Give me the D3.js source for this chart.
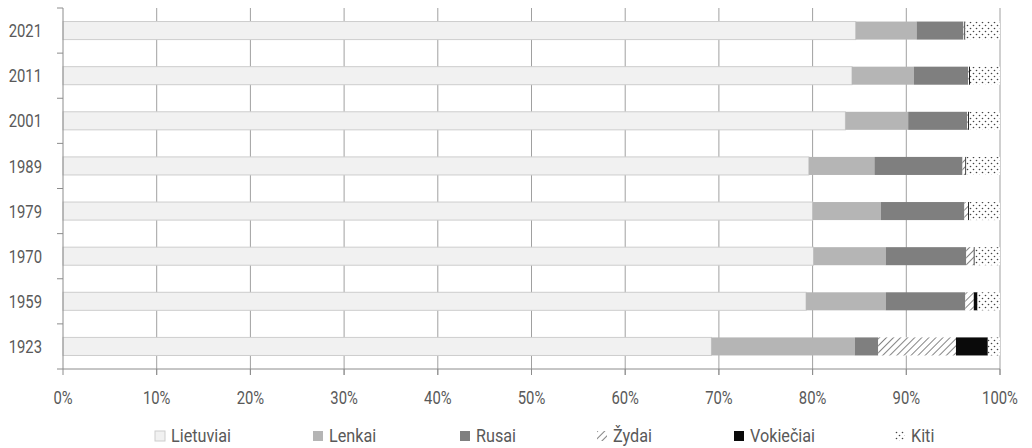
<!DOCTYPE html>
<html><head><meta charset="utf-8">
<script src="https://cdn.jsdelivr.net/npm/d3@7"></script>
<style>
body{margin:0;background:#fff;}
text{font-family:Roboto,"DejaVu Sans Condensed",sans-serif;font-weight:400;fill:#595959;}
</style></head>
<body><svg id="c" width="1032" height="448"></svg>
<script>
const years = ["2021","2011","2001","1989","1979","1970","1959","1923"];
const groups = ["Lietuviai","Lenkai","Rusai","Žydai","Vokiečiai","Kiti"];
const lietuviai = [84.6,84.2,83.5,79.6,80.0,80.1,79.3,69.2];
const lenkai    = [6.5,6.6,6.7,7.0,7.3,7.7,8.5,15.3];
const rusai     = [5.0,5.8,6.3,9.4,8.9,8.6,8.5,2.5];
const zydai     = [0.1,0.1,0.1,0.3,0.4,0.8,0.9,8.3];
const vokieciai = [0.1,0.1,0.1,0.1,0.1,0.1,0.4,3.4];
const kiti      = [3.7,3.2,3.3,3.6,3.3,2.7,2.4,1.3];
const xTicks = [0,10,20,30,40,50,60,70,80,90,100];

const series = [lietuviai,lenkai,rusai,zydai,vokieciai,kiti];
const rows = years.map((y,i)=>{const o={year:y};groups.forEach((g,j)=>o[g]=series[j][i]);return o;});

const svg = d3.select("#c");
const defs = svg.append("defs");
const hatch = defs.append("pattern").attr("id","hatch").attr("patternUnits","userSpaceOnUse")
  .attr("width",5).attr("height",5).attr("patternTransform","rotate(45)");
hatch.append("rect").attr("width",5).attr("height",5).attr("fill","#fff");
hatch.append("line").attr("x1",0).attr("y1",0).attr("x2",0).attr("y2",5).attr("stroke","#333").attr("stroke-width",1.2);
const dots = defs.append("pattern").attr("id","dots").attr("patternUnits","userSpaceOnUse")
  .attr("width",6).attr("height",6);
dots.append("rect").attr("width",6).attr("height",6).attr("fill","#fff");
dots.append("circle").attr("cx",1.5).attr("cy",1.5).attr("r",0.8).attr("fill","#444");
dots.append("circle").attr("cx",4.5).attr("cy",4.5).attr("r",0.8).attr("fill","#444");

const fills = {"Lietuviai":"#f1f1f1","Lenkai":"#b5b5b5","Rusai":"#7f7f7f","Žydai":"url(#hatch)","Vokiečiai":"#0a0a0a","Kiti":"url(#dots)"};

const x = d3.scaleLinear().domain([0,100]).range([63,1000]);
const y = d3.scaleBand().domain(years).range([8,369]).paddingInner(0.6).paddingOuter(0.3);
function label(sel, px, py, sx){ return sel.attr("transform",(d,i)=>`translate(${px(d,i)},${py(d,i)}) scale(${sx},1)`); }

// gridlines
svg.append("g").selectAll("line").data(xTicks.slice(1)).join("line")
  .attr("x1",d=>x(d)).attr("x2",d=>x(d)).attr("y1",8).attr("y2",375)
  .attr("stroke","#a0a0a0").attr("stroke-width",1);

// bars
const stack = d3.stack().keys(groups)(rows);
svg.append("g").selectAll("g").data(stack).join("g")
  .attr("fill",d=>fills[d.key])
  .selectAll("rect").data(d=>d.map(v=>({v,key:d.key}))).join("rect")
  .attr("x",d=>x(d.v[0])).attr("width",d=>x(d.v[1])-x(d.v[0]))
  .attr("y",d=>y(d.v.data.year)).attr("height",y.bandwidth())
  .attr("stroke",d=>d.key==="Lietuviai"?"#cdcdcd":"none").attr("stroke-width",1);

// y axis
const step = y.step();
const yb = d3.range(years.length+1).map(i=>8+i*step);
svg.append("line").attr("x1",63).attr("x2",63).attr("y1",8).attr("y2",369).attr("stroke","#8c8c8c");
svg.append("g").selectAll("line").data(yb).join("line")
  .attr("x1",57).attr("x2",63).attr("y1",d=>d).attr("y2",d=>d).attr("stroke","#8c8c8c");
label(svg.append("g").selectAll("text").data(years).join("text"), ()=>42, d=>y(d)+y.bandwidth()/2, 0.78)
  .attr("dy","0.35em").attr("text-anchor","end").attr("font-size",19).text(d=>d);

// x axis
svg.append("line").attr("x1",63).attr("x2",1000).attr("y1",369).attr("y2",369).attr("stroke","#8c8c8c");
svg.append("g").selectAll("line").data(xTicks).join("line")
  .attr("x1",d=>x(d)).attr("x2",d=>x(d)).attr("y1",369).attr("y2",375).attr("stroke","#8c8c8c");
label(svg.append("g").selectAll("text").data(xTicks).join("text"), d=>x(d), ()=>397, 0.78)
  .attr("dy","0.35em").attr("text-anchor","middle").attr("font-size",19).text(d=>d+"%");

// legend
const legX = [155,313,460,597,734,895];
const lg = svg.append("g").selectAll("g").data(groups).join("g")
  .attr("transform",(d,i)=>`translate(${legX[i]},431)`);
lg.append("rect").attr("width",10).attr("height",10).attr("fill",d=>fills[d])
  .attr("stroke",d=>d==="Lietuviai"?"#cdcdcd":"none");
label(lg.append("text"), ()=>16, ()=>5, 0.9).attr("dy","0.35em").attr("font-size",18).text(d=>d);
</script></body></html>
